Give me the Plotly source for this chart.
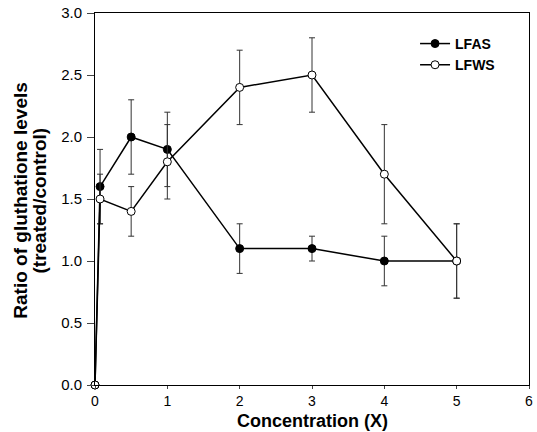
import plotly.graph_objects as go

conc = [0, 0.07, 0.5, 1, 2, 3, 4, 5]
lfas = [0, 1.6, 2.0, 1.9, 1.1, 1.1, 1.0, 1.0]
lfas_err = [0, 0.3, 0.3, 0.3, 0.2, 0.1, 0.2, 0.3]
lfws = [0, 1.5, 1.4, 1.8, 2.4, 2.5, 1.7, 1.0]
lfws_err = [0, 0.2, 0.2, 0.3, 0.3, 0.3, 0.4, 0.3]

x_title = "Concentration (X)"
y_title_lines = ["Ratio of gluthatione levels", "(treated/control)"]

L, R, T, B = 95, 4, 12, 47
W, H = 537, 432
pw, ph = W - L - R, H - T - B

fig = go.Figure()
fig.add_trace(go.Scatter(
    x=conc, y=lfas, name="LFAS", mode="lines+markers",
    line=dict(color="black", width=1.5),
    marker=dict(symbol="circle", size=8, color="black", line=dict(color="black", width=1)),
    error_y=dict(type="data", array=lfas_err, color="#333", thickness=1, width=3),
    cliponaxis=False,
))
fig.add_trace(go.Scatter(
    x=conc, y=lfws, name="LFWS", mode="lines+markers",
    line=dict(color="black", width=1.5),
    marker=dict(symbol="circle", size=8, color="white", line=dict(color="black", width=1)),
    error_y=dict(type="data", array=lfws_err, color="#333", thickness=1, width=3),
    cliponaxis=False,
))

annotations = [
    dict(text="<b>%s</b>" % x_title, xref="paper", yref="paper",
         x=0.5, y=(-(421 - (H - B))) / ph, xanchor="center", yanchor="middle",
         showarrow=False, font=dict(size=18)),
]
for px, line in zip([20, 39], y_title_lines):
    annotations.append(dict(
        text="<b>%s</b>" % line, xref="paper", yref="paper",
        x=(px - L) / pw, y=0.5 - (2 / ph), xanchor="center", yanchor="middle",
        textangle=-90, showarrow=False, font=dict(size=19)))

fig.update_layout(
    width=W, height=H,
    margin=dict(l=L, r=R, t=T, b=B),
    paper_bgcolor="white", plot_bgcolor="white",
    font=dict(family="Liberation Sans, Arial, sans-serif", color="black", size=15),
    showlegend=True,
    legend=dict(x=(418 - L) / pw, y=1 - (27 - T) / ph, xanchor="left", yanchor="top",
                bgcolor="rgba(0,0,0,0)", font=dict(size=14, family="Liberation Sans, Arial", weight="bold"),
                tracegroupgap=0, itemwidth=30),
    annotations=annotations,
)
fig.update_xaxes(
    range=[0, 6], tickvals=[0, 1, 2, 3, 4, 5, 6], ticks="outside", ticklen=3,
    tickfont=dict(size=14), ticklabeloverflow="allow",
    showline=True, linecolor="black", linewidth=1, mirror=True, showgrid=False, zeroline=False,
)
fig.update_yaxes(
    range=[0, 3], tickvals=[0, 0.5, 1, 1.5, 2, 2.5, 3], tickformat=".1f", ticks="outside", ticklen=7,
    ticklabelstandoff=2,
    showline=True, linecolor="black", linewidth=1, mirror=True, showgrid=False, zeroline=False,
)

fig.write_html("out.html")
